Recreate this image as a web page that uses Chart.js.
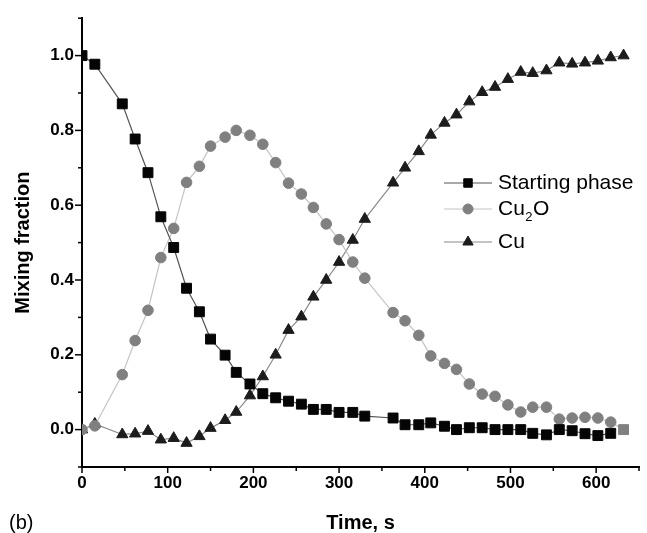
<!DOCTYPE html>
<html>
<head>
<meta charset="utf-8">
<script src="https://cdn.jsdelivr.net/npm/chart.js@4.4.1/dist/chart.umd.min.js"></script>
<style>
  html, body { margin: 0; padding: 0; background: #fff; }
  canvas { display: block; }
</style>
</head>
<body>
<canvas id="chart" width="647" height="533"></canvas>
<script>
// --------------------- DATA ---------------------
const timeS = [0, 15, 47, 62, 77, 92, 107, 122, 137, 150, 167, 180, 196, 211, 226, 241, 256, 270, 285, 300,
  316, 330, 363, 377, 393, 407, 423, 437, 452, 467, 482, 497, 512, 526, 542, 557, 572, 587, 602, 617, 632];

const startingPhase = [1.0, 0.977, 0.871, 0.777, 0.687, 0.569, 0.487, 0.378, 0.315, 0.242, 0.199, 0.153, 0.122,
  0.096, 0.085, 0.076, 0.068, 0.054, 0.054, 0.046, 0.046, 0.036, 0.031, 0.013, 0.013, 0.018, 0.009, 0.0, 0.005,
  0.005, 0.0, 0.0, 0.0, -0.01, -0.014, 0.0, -0.003, -0.011, -0.016, -0.01, null];

const cu2o = [0.0, 0.01, 0.147, 0.238, 0.319, 0.46, 0.538, 0.661, 0.704, 0.758, 0.782, 0.80, 0.787, 0.763, 0.714,
  0.659, 0.63, 0.594, 0.55, 0.508, 0.448, 0.405, 0.313, 0.291, 0.252, 0.197, 0.177, 0.161, 0.122, 0.095, 0.089,
  0.066, 0.047, 0.06, 0.06, 0.028, 0.031, 0.033, 0.031, 0.02, 0.0];

const cu = [0.0, 0.015, -0.013, -0.011, -0.004, -0.027, -0.023, -0.036, -0.018, 0.004, 0.025, 0.047, 0.091, 0.142,
  0.2, 0.266, 0.302, 0.355, 0.40, 0.448, 0.507, 0.563, 0.66, 0.70, 0.744, 0.788, 0.82, 0.842, 0.877, 0.902, 0.916,
  0.937, 0.956, 0.953, 0.96, 0.981, 0.978, 0.981, 0.986, 0.995, 1.0];

const seriesNames = ["Starting phase", "Cu₂O", "Cu"];
const xTickLabels = [0, 100, 200, 300, 400, 500, 600];
const yTickLabels = ["0.0", "0.2", "0.4", "0.6", "0.8", "1.0"];

const FONT = "'Liberation Sans', Arial, Helvetica, sans-serif";

function toPoints(values) {
  return timeS.map((t, i) => ({ x: t, y: values[i] }));
}

// --------------------- PLUGINS ---------------------
// outward tick marks: long at labelled values, short in between
const tickMarks = {
  id: "tickMarks",
  afterDraw(chart) {
    const { ctx, scales: { x, y } } = chart;
    ctx.save();
    ctx.strokeStyle = "#000";
    ctx.lineWidth = 1.5;
    x.ticks.forEach((t) => {
      const px = x.getPixelForValue(t.value);
      const len = xTickLabels.includes(Math.round(t.value)) ? 6 : 4;
      ctx.beginPath();
      ctx.moveTo(px, x.top);
      ctx.lineTo(px, x.top + len);
      ctx.stroke();
    });
    y.ticks.forEach((t) => {
      const py = y.getPixelForValue(t.value);
      const len = yTickLabels.includes(t.value.toFixed(1)) ? 7 : 4;
      ctx.beginPath();
      ctx.moveTo(y.right, py);
      ctx.lineTo(y.right - len, py);
      ctx.stroke();
    });
    ctx.restore();
  }
};

// legend inside the plot, plus the "(b)" panel tag
const sideLegend = {
  id: "sideLegend",
  afterDraw(chart) {
    const ctx = chart.ctx;
    const rows = [183, 209, 242];
    const draw = Chart.helpers && Chart.helpers.drawPoint;
    ctx.save();
    chart.data.datasets.forEach((ds, i) => {
      const yy = rows[i];
      ctx.strokeStyle = ds.borderColor;
      ctx.lineWidth = 1.2;
      ctx.beginPath();
      ctx.moveTo(444, yy);
      ctx.lineTo(492, yy);
      ctx.stroke();
      ctx.fillStyle = ds.pointBackgroundColor;
      ctx.strokeStyle = ds.pointBorderColor;
      ctx.lineWidth = 1;
      if (draw) {
        draw(ctx, { pointStyle: ds.legendStyle, radius: ds.legendRadius, borderWidth: 1, rotation: 0 }, 468, yy);
      }
      // label, with a real subscript for the "2"
      ctx.fillStyle = "#000";
      ctx.textBaseline = "middle";
      let tx = 498;
      const parts = ds.label.split("₂");
      parts.forEach((p, k) => {
        ctx.font = `21px ${FONT}`;
        ctx.fillText(p, tx, yy);
        tx += ctx.measureText(p).width;
        if (k < parts.length - 1) {
          ctx.font = `13px ${FONT}`;
          ctx.fillText("2", tx + 0.5, yy + 8);
          tx += ctx.measureText("2").width + 1;
        }
      });
    });
    ctx.font = `20px ${FONT}`;
    ctx.textBaseline = "alphabetic";
    ctx.fillStyle = "#000";
    ctx.fillText("(b)", 9, 529);
    ctx.restore();
  }
};

// --------------------- CHART ---------------------
const ctx = document.getElementById("chart").getContext("2d");
new Chart(ctx, {
  type: "line",
  data: {
    datasets: [
      {
        label: seriesNames[0],
        data: toPoints(startingPhase),
        borderColor: "#555",
        borderWidth: 1.2,
        pointStyle: "rect",
        pointRadius: 7,
        pointBackgroundColor: "#050505",
        pointBorderColor: "#050505",
        pointBorderWidth: 1,
        legendStyle: "rect",
        legendRadius: 6,
        tension: 0
      },
      {
        label: seriesNames[1],
        data: toPoints(cu2o),
        borderColor: "#c4c4c4",
        borderWidth: 1.2,
        pointStyle: (c) => (c.dataIndex === timeS.length - 1 ? "rect" : "circle"),
        pointRadius: (c) => (c.dataIndex === timeS.length - 1 ? 7 : 5.3),
        pointBackgroundColor: "#808080",
        pointBorderColor: "#808080",
        pointBorderWidth: 1,
        legendStyle: "circle",
        legendRadius: 5,
        tension: 0
      },
      {
        label: seriesNames[2],
        data: toPoints(cu),
        borderColor: "#8a8a8a",
        borderWidth: 1.2,
        pointStyle: "triangle",
        pointRadius: 6.5,
        pointBackgroundColor: "#1c1c1c",
        pointBorderColor: "#1c1c1c",
        pointBorderWidth: 1,
        legendStyle: "triangle",
        legendRadius: 6,
        tension: 0
      }
    ]
  },
  options: {
    responsive: false,
    animation: false,
    layout: { padding: { top: 12, right: 0, bottom: 0, left: 0 } },
    plugins: { legend: { display: false }, tooltip: { enabled: false } },
    scales: {
      x: {
        type: "linear",
        min: 0,
        max: 650,
        grid: { display: false, drawTicks: false },
        border: { display: true, color: "#000", width: 2 },
        ticks: {
          stepSize: 50,
          autoSkip: false,
          maxRotation: 0,
          padding: 6,
          color: "#000",
          font: { family: FONT, size: 17, weight: "bold" },
          callback: (v) => (xTickLabels.includes(Math.round(v)) ? String(Math.round(v)) : "")
        },
        title: {
          display: true,
          text: "Time, s",
          color: "#000",
          font: { family: FONT, size: 20, weight: "bold", lineHeight: 1 },
          padding: { top: 0, bottom: 0 }
        },
        afterFit: (s) => { s.height = 66; }
      },
      y: {
        min: -0.1,
        max: 1.1,
        grid: { display: false, drawTicks: false },
        border: { display: true, color: "#000", width: 2 },
        ticks: {
          stepSize: 0.1,
          autoSkip: false,
          padding: 8,
          color: "#000",
          font: { family: FONT, size: 17, weight: "bold" },
          callback: (v) => {
            const s = Number(v).toFixed(1);
            return yTickLabels.includes(s) && Number(v) > -0.05 ? s : "";
          }
        },
        title: {
          display: true,
          text: "Mixing fraction",
          color: "#000",
          font: { family: FONT, size: 20, weight: "bold", lineHeight: 1 },
          padding: { top: 13, bottom: 0 }
        },
        afterFit: (s) => { s.width = 82; }
      }
    }
  },
  plugins: [tickMarks, sideLegend]
});
</script>
</body>
</html>
